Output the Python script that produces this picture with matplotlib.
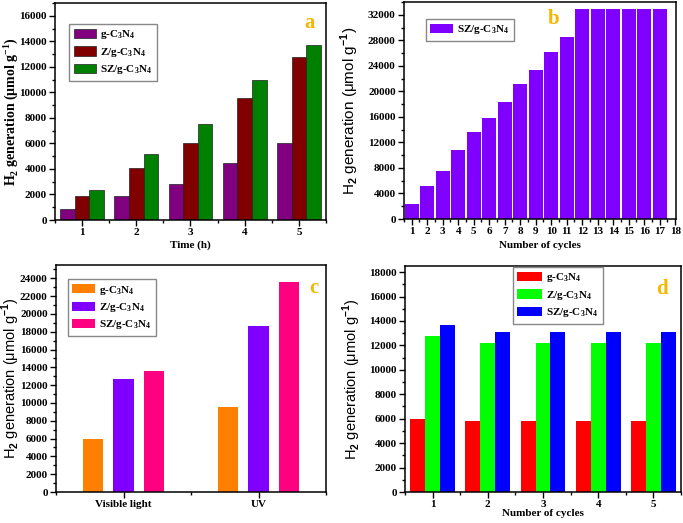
import numpy as np
import matplotlib
matplotlib.use("Agg")
import matplotlib.pyplot as plt
from matplotlib.ticker import MultipleLocator

# panel a: H2 vs time
hours = [1, 2, 3, 4, 5]
a_gcn = [850, 1900, 2800, 4500, 6000]
a_z = [1900, 4100, 6050, 9550, 12800]
a_sz = [2350, 5150, 7550, 10950, 13700]

# panel b: cumulative over cycles
cycles_b = list(range(1, 18))
b_sz = [2300, 5100, 7500, 10850, 13600, 15750, 18400, 21200, 23400,
        26100, 28550, 32900, 32900, 32900, 32900, 32900, 32900]

# panel c: light source
light = ["Visible light", "UV"]
c_gcn = [6000, 9500]
c_z = [12750, 18700]
c_sz = [13600, 23600]

# panel d: recycling
cycles_d = [1, 2, 3, 4, 5]
d_gcn = [6000, 5850, 5850, 5850, 5850]
d_z = [12800, 12200, 12200, 12200, 12200]
d_sz = [13700, 13100, 13100, 13100, 13100]

labels = ["g-C$_\\mathbf{3}$N$_\\mathbf{4}$", "Z/g-C$_\\mathbf{3}$N$_\\mathbf{4}$",
          "SZ/g-C$_\\mathbf{3}$N$_\\mathbf{4}$"]

plt.rcParams['font.family'] = 'Liberation Serif'
plt.rcParams['font.weight'] = 'bold'
plt.rcParams['mathtext.fontset'] = 'custom'
plt.rcParams['mathtext.rm'] = 'Liberation Serif:bold'
plt.rcParams['mathtext.bf'] = 'Liberation Serif:bold'
plt.rcParams['mathtext.sf'] = 'Liberation Sans'

W, H = 683, 523
fig = plt.figure(figsize=(W / 100, H / 100), dpi=100)


def make_ax(l, r, t, b):
    return fig.add_axes([l / W, 1 - b / H, (r - l) / W, (b - t) / H])


def style(ax):
    for s in ax.spines.values():
        s.set_linewidth(1.1)
    ax.tick_params(which='major', direction='out', length=4, width=1, labelsize=8, pad=2)
    ax.tick_params(which='minor', direction='out', length=2, width=1)
    for lab in ax.get_xticklabels() + ax.get_yticklabels():
        lab.set_fontweight('bold')


def legend(ax, anchor, hl=2.0):
    ax.legend(loc='upper left', bbox_to_anchor=anchor, fontsize=8, frameon=True,
              fancybox=False, edgecolor='#888888', framealpha=1, borderaxespad=0,
              handlelength=hl, handleheight=0.9, handletextpad=0.4,
              borderpad=0.4, labelspacing=0.4)


ylab_serif = "H$_\\mathbf{2}$ generation (μmol g$^\\mathbf{-1}$)"
ylab_sans = "H$_\\mathsf{2}$ generation (μmol g$^\\mathsf{-1}$)"
gold = '#F5B800'

# ---- a
ax = make_ax(55, 326, 3, 220)
x = np.array(hours)
w = 0.27
ax.bar(x - w, a_gcn, w, color='#800080', edgecolor='#202020', lw=0.5, label=labels[0])
ax.bar(x, a_z, w, color='#800000', edgecolor='#202020', lw=0.5, label=labels[1])
ax.bar(x + w, a_sz, w, color='#008000', edgecolor='#202020', lw=0.5, label=labels[2])
ax.set_xlim(0.5, 5.5)
ax.set_ylim(0, 17000)
ax.set_xticks(hours)
ax.xaxis.set_minor_locator(MultipleLocator(0.5))
ax.yaxis.set_major_locator(MultipleLocator(2000))
ax.yaxis.set_minor_locator(MultipleLocator(1000))
ax.set_xlabel("Time (h)", fontsize=8, fontweight='bold', labelpad=2)
ax.set_ylabel(ylab_serif, fontsize=10, fontweight='bold')
ax.yaxis.set_label_coords(-0.13, 0.5)
legend(ax, (0.052, 0.903))
ax.text(0.94, 0.91, "a", transform=ax.transAxes, color=gold, fontsize=15,
        fontweight='bold', ha='center', va='center')
style(ax)

# ---- b
ax = make_ax(404, 676, 2, 219)
ax.bar(cycles_b, b_sz, 0.88, color='#8000FF', label=labels[2])
ax.set_xlim(0.5, 18.05)
ax.set_ylim(0, 34000)
ax.set_xticks(range(1, 19))
ax.xaxis.set_minor_locator(MultipleLocator(0.5))
ax.yaxis.set_major_locator(MultipleLocator(4000))
ax.yaxis.set_minor_locator(MultipleLocator(2000))
ax.set_xlabel("Number of cycles", fontsize=8, fontweight='bold', labelpad=3)
ax.set_ylabel(ylab_sans, fontsize=11, fontweight='normal', family='Liberation Sans')
ax.yaxis.set_label_coords(-0.158, 0.5)
legend(ax, (0.081, 0.922), hl=2.0)
ax.text(0.55, 0.92, "b", transform=ax.transAxes, color=gold, fontsize=15,
        fontweight='bold', ha='center', va='center')
style(ax)

# ---- c
ax = make_ax(56, 326, 265, 492)
x = np.array([1, 2])
w = 0.15
off = 0.225
ax.bar(x - off, c_gcn, w, color='#FF8000', label=labels[0])
ax.bar(x, c_z, w, color='#8000FF', label=labels[1])
ax.bar(x + off, c_sz, w, color='#FF0080', label=labels[2])
ax.set_xlim(0.5, 2.5)
ax.set_ylim(0, 25500)
ax.set_xticks([1, 2])
ax.set_xticklabels(light)
ax.xaxis.set_minor_locator(MultipleLocator(0.5))
ax.yaxis.set_major_locator(MultipleLocator(2000))
ax.yaxis.set_minor_locator(MultipleLocator(1000))
ax.set_ylabel(ylab_sans, fontsize=10.5, fontweight='normal', family='Liberation Sans')
ax.yaxis.set_label_coords(-0.126, 0.5)
legend(ax, (0.044, 0.938))
ax.text(0.955, 0.9, "c", transform=ax.transAxes, color=gold, fontsize=15,
        fontweight='bold', ha='center', va='center')
style(ax)

# ---- d
ax = make_ax(405, 681, 266, 492)
x = np.array(cycles_d)
w = 0.27
ax.bar(x - w, d_gcn, w, color='#FF0000', label=labels[0])
ax.bar(x, d_z, w, color='#00FF00', label=labels[1])
ax.bar(x + w, d_sz, w, color='#0000FF', label=labels[2])
ax.set_xlim(0.5, 5.5)
ax.set_ylim(0, 18500)
ax.set_xticks(cycles_d)
ax.xaxis.set_minor_locator(MultipleLocator(0.5))
ax.yaxis.set_major_locator(MultipleLocator(2000))
ax.yaxis.set_minor_locator(MultipleLocator(1000))
ax.set_xlabel("Number of cycles", fontsize=8, fontweight='bold', labelpad=0)
ax.set_ylabel(ylab_sans, fontsize=10.5, fontweight='normal', family='Liberation Sans')
ax.yaxis.set_label_coords(-0.152, 0.5)
legend(ax, (0.391, 0.996), hl=2.2)
ax.text(0.93, 0.9, "d", transform=ax.transAxes, color=gold, fontsize=15,
        fontweight='bold', ha='center', va='center')
style(ax)

fig.savefig("out.png", dpi=100)
